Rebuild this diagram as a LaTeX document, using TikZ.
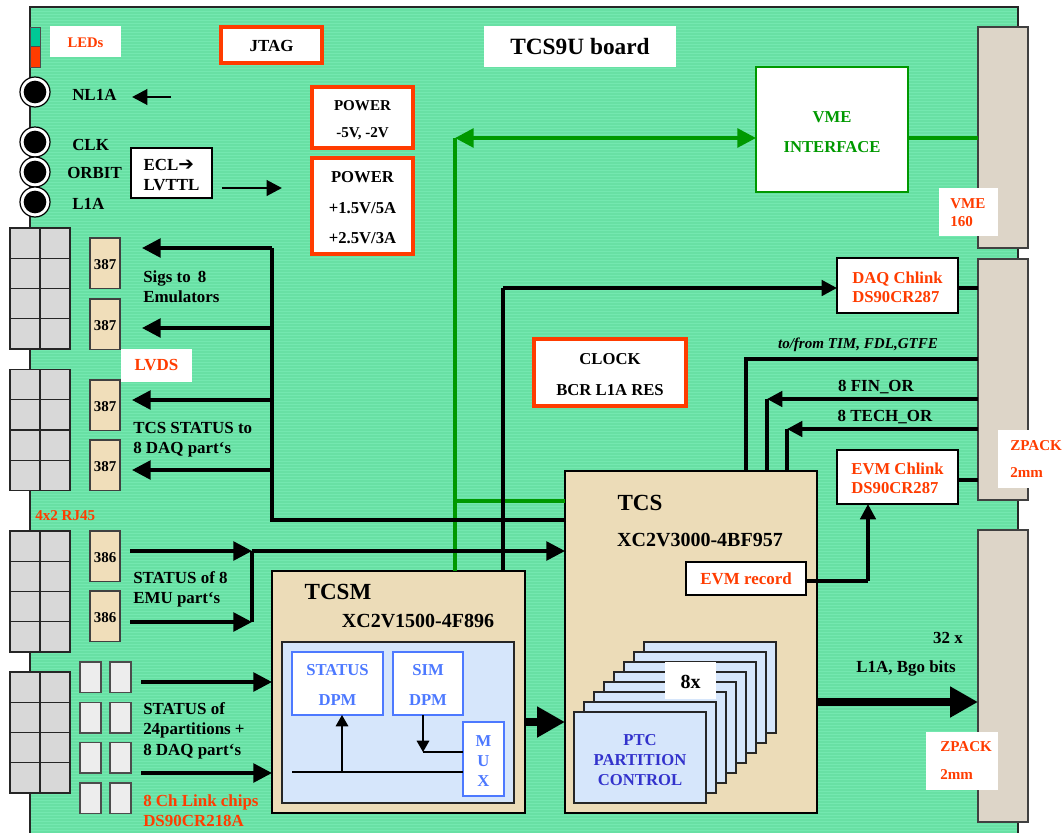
\documentclass[tikz,border=0pt]{standalone}
\usepackage{fontspec}
\setmainfont{Liberation Serif}
\newfontfamily\dvfont{DejaVu Sans}
\usetikzlibrary{arrows.meta,calc}
\definecolor{boardgreen}{RGB}{104,224,164}
\definecolor{stripegreen}{RGB}{116,232,176}
\definecolor{hotred}{RGB}{255,60,0}
\definecolor{vmegreen}{RGB}{0,153,0}
\definecolor{beige}{RGB}{236,220,184}
\definecolor{chipbeige}{RGB}{240,222,186}
\definecolor{conn}{RGB}{221,213,200}
\definecolor{rjgray}{RGB}{216,216,216}
\definecolor{panelblue}{RGB}{214,230,251}
\definecolor{dpmblue}{RGB}{77,121,255}
\definecolor{ptcblue}{RGB}{51,51,204}
\definecolor{ledgreen}{RGB}{0,200,150}
\newcommand\bx[7][]{\node[anchor=north west,minimum width=#5*0.75pt,minimum height=#6*0.75pt,inner sep=0pt,outer sep=0pt,#1] (#2) at (#3,#4) {#7};}
\newcommand\dn[1]{\rule{0pt}{#1pt}}
\tikzset{
 f/.style 2 args={font=\fontsize{#1}{#2}\selectfont\bfseries},
 main/.style={f={12.7}{15}},
 txt/.style={main,inner sep=0pt,align=left,anchor=west},
 redtxt/.style={txt,text=hotred},
 redbox/.style={draw=hotred,fill=white,line width=2.8pt,main,align=center},
 whitebox/.style={draw=black,fill=white,line width=1.1pt,main},
 whitelabel/.style={fill=white,main,text=hotred},
 chipstyle/.style={draw=black!75,fill=chipbeige,line width=0.9pt,f={11.25}{13}},
 linkstyle/.style={draw=black!70,fill=black!7,line width=0.9pt},
 cell/.style={draw=black!85,fill=rjgray,line width=1pt},
 connector/.style={draw=black!75,fill=conn,line width=0.9pt},
 dpm/.style={draw=dpmblue,fill=white,line width=0.9pt,main,text=dpmblue,align=center},
 fpga/.style={draw=black,fill=beige,line width=2.2pt},
 cardstyle/.style={draw=black!85,fill=panelblue,line width=0.9pt},
 wire/.style={draw=black,line width=2.7pt},
 lightwire/.style={draw=black,line width=2.2pt},
 thinwire/.style={draw=black,line width=0.9pt},
 gwire/.style={draw=vmegreen,line width=2.9pt},
 tip/.style={-{Triangle[length=14pt,width=14pt]}},
 midtip/.style={-{Triangle[length=11.5pt,width=11.5pt]}},
 smalltip/.style={-{Triangle[length=8.5pt,width=9.5pt]}},
 bigwire/.style={draw=black,line width=6pt,-{Triangle[length=21pt,width=22pt]}},
}
\newcommand\rj[2]{\foreach \r in {0,1,2,3}{\foreach \c in {0,1}{\node[cell,anchor=north west,minimum width=22.5pt,minimum height=22.7pt,inner sep=0pt,outer sep=0pt] (rj#1-\r-\c) at ({10+30*\c},{#2+30.25*\r}) {};}}}
\begin{document}
\begin{tikzpicture}[x=0.75pt,y=-0.75pt]
\clip (0,0) rectangle (1064,832);
\fill[white] (0,0) rectangle (1064,832);
% board
\fill[boardgreen] (30,7) rectangle (1018,850);
\foreach \yy in {8,11,...,832}{\draw[stripegreen,line width=0.75pt] (30,\yy) -- (1018,\yy);}
\draw[black!85,line width=1.1pt] (30,850) -- (30,7) -- (1018,7) -- (1018,850);
% LEDs
\bx[fill=ledgreen,draw=black!70,line width=0.6pt]{ledg}{30}{27}{10}{19}{}
\bx[fill=hotred,draw=black!70,line width=0.6pt]{ledr}{30}{46}{10}{21}{}
\bx[whitelabel,f={11}{13}]{ledl}{50}{26}{71}{31}{\dn{9}LEDs}
% top boxes
\bx[redbox]{jtag}{221}{27}{101}{36}{\dn{10}JTAG}
\bx[fill=white,f={17.5}{20}]{title}{484}{26}{192}{41}{TCS9U board}
\bx[redbox,f={11.3}{20.2}]{pwra}{312}{87}{101}{61}{\dn{12}POWER\\-5V, -2V}
\bx[redbox,f={12.5}{22.8}]{pwrb}{312}{158}{101}{96}{\dn{11}POWER\\+1.5V/5A\\+2.5V/3A}
\bx[draw=vmegreen,fill=white,line width=1.9pt,main,text=vmegreen,align=center,f={12.5}{22.5}]{vme}{756}{67}{152}{125}{\dn{11.5}VME\\INTERFACE}
% jacks
\foreach \n/\y in {nl/92,clk/142,orb/172,lia/202}{
 \node[circle,draw=black,fill=white,line width=0.9pt,minimum size=22.5pt,inner sep=0pt] (jo\n) at (35,\y) {};
 \node[circle,fill=black,minimum size=17pt,inner sep=0pt] (ji\n) at (35,\y) {};
}
\node[txt] (nltxt) at (72,94.5) {NL1A};
\node[txt] (clktxt) at (72,145) {CLK};
\node[txt] (orbtxt) at (67,172.5) {ORBIT};
\node[txt] (l1atxt) at (72,204) {L1A};
\bx[whitebox,align=left]{ecl}{131}{148}{81}{50}{\dn{12}ECL{\dvfont\bfseries\fontsize{14}{15}\selectfont ➔}\\LVTTL}
\coordinate (nlfrom) at (171,97);
\coordinate (nlto) at (132,97);
\coordinate (eclfrom) at (222,188);
\coordinate (eclto) at (282,188);
% RJ45 blocks
\rj{a}{228}\rj{b}{369.5}\rj{c}{531}\rj{d}{672}
% chips
\foreach \n/\y/\l in {a/238/387,b/299/387,c/380/387,d/440/387,e/531/386,f/591/386}{
 \bx[chipstyle]{chip\n}{90}{\y}{30}{50.5}{\dn{9}\l}
}
\foreach \r/\y in {0/662,1/702.5,2/742.5,3/783}{\foreach \c/\x in {0/80,1/110}{
 \bx[linkstyle]{lnk\r\c}{\x}{\y}{21}{30.5}{}
}}
% left labels
\node[txt] (sigs) at (143,287) {Sigs to \,8\\Emulators};
\bx[whitelabel]{lvds}{121}{349}{71}{33}{LVDS}
\node[txt] (tcsst) at (133,440) {TCS STATUS to\\8 DAQ part‘s};
\node[redtxt,f={11.3}{14}] (rj) at (35,516) {4x2 RJ45};
\node[txt] (emu) at (133,589) {STATUS of 8\\EMU part‘s};
\node[txt,f={12.7}{15.4}] (stp) at (143,730.5) {STATUS of\\24partitions +\\8 DAQ part‘s};
\node[redtxt,f={12.7}{15.2}] (lnkt) at (143,810.5) {8 Ch Link chips\\DS90CR218A};
% right connectors
\bx[connector]{zvme}{978}{27}{50}{221}{}
\bx[connector]{zmid}{978}{259}{50}{241}{}
\bx[connector]{zbot}{978}{530}{50}{292}{}
\bx[fill=white]{vback}{939}{188}{59}{48}{}
\node[redtxt,f={11.3}{13.5}] (vlab) at (950,213) {VME\\160};
\bx[fill=white]{zback1}{998}{430}{66}{58}{}
\node[redtxt,f={11.3}{20.2}] (zlab1) at (1010,459) {ZPACK\\2mm};
\bx[fill=white]{zback2}{926}{732}{72}{58}{}
\node[redtxt,f={11.3}{21}] (zlab2) at (940,761) {ZPACK\\2mm};
% right-hand boxes
\bx[whitebox,text=hotred,align=left,f={12.5}{14.6}]{daq}{837}{258}{121}{55}{\dn{11}DAQ Chlink\\DS90CR287}
\bx[whitebox,text=hotred,align=left,f={12.5}{14.6}]{evm}{837}{450}{121}{54}{\dn{11}EVM Chlink\\DS90CR287}
\bx[redbox,f={12.5}{23}]{clock}{534}{339}{152}{67}{\dn{11.5}CLOCK\\BCR L1A RES}
\node[main,inner sep=0pt,font=\fontsize{11.3}{12}\selectfont\bfseries\itshape] (tofrom) at (858,345) {to/from TIM, FDL,GTFE};
\node[main,inner sep=0pt] (fin) at (876,387) {8 FIN\_OR};
\node[main,inner sep=0pt] (tech) at (885,417) {8 TECH\_OR};
% TCS FPGA
\bx[fpga]{tcs}{565}{471}{252}{342}{}
\node[inner sep=0pt,f={17.3}{20}] (tcst) at (640,503) {TCS};
\node[inner sep=0pt,f={15}{16}] (tcsp) at (700,540) {XC2V3000-4BF957};
\bx[whitebox,text=hotred]{evr}{686}{562}{120}{33}{EVM record}
\foreach \i in {7,6,...,1}{
 \bx[cardstyle]{card\i}{574+10*\i}{712-10*\i}{132}{91}{}
}
\bx[cardstyle,text=ptcblue,align=center,f={12.5}{14.8}]{ptc}{574}{712}{132}{91}{\dn{12}PTC\\PARTITION\\CONTROL}
\bx[fill=white,f={15}{18}]{eight}{665}{662}{51}{37}{\dn{12}8x}
% TCSM FPGA
\bx[fpga]{tcsm}{272}{571}{253}{242}{}
\node[inner sep=0pt,f={17.3}{20}] (tcsmt) at (338,592) {TCSM};
\node[inner sep=0pt,f={15}{16}] (tcsmp) at (418,621) {XC2V1500-4F896};
\bx[cardstyle]{panel}{282}{642}{232}{161}{}
\bx[dpm,f={12.5}{22.5}]{sdpm}{292}{652}{91}{63}{\dn{10}STATUS\\DPM}
\bx[dpm,f={12.5}{22.5}]{sim}{393}{652}{70}{63}{\dn{10}SIM\\DPM}
\bx[dpm,f={12.5}{15}]{mux}{463}{722}{41}{74}{\dn{11.5}M\\U\\X}
% green lines
\coordinate (gtop) at (455,138);
\coordinate (gbranch) at (455,501);
\draw[gwire,{Triangle[length=14pt,width=14pt]}-{Triangle[length=14pt,width=14pt]}] (gtop) -- (vme.west|-gtop);
\draw[gwire] (gtop) -- (gtop|-tcsm.north);
\draw[gwire] (gbranch) -- (gbranch-|tcs.west);
\draw[gwire] (vme.east|-gtop) -- (zvme.west|-gtop);
% black lines
\draw[lightwire,midtip] (nlfrom) -- (nlto);
\draw[lightwire,midtip] (eclfrom) -- (eclto);
\coordinate (bus) at (272,248);
\coordinate (bustcs) at (272,520);
\coordinate (t1) at (142,248);
\coordinate (t2) at (142,328);
\coordinate (t3) at (132,400);
\coordinate (t4) at (132,470);
\draw[wire,line join=miter] (t1-|bus) -- (bustcs) -- (bustcs-|tcs.west);
\foreach \t in {t1,t2,t3,t4}{\draw[wire,tip] (bus|-\t) -- (\t);}
\coordinate (daqv) at (503,288);
\draw[wire] (daqv|-tcsm.north) -- (daqv);
\draw[wire,midtip] (daqv) -- (daqv-|daq.west);
\draw[wire] (daqv-|daq.east) -- (daqv-|zmid.west);
\coordinate (evl) at (958,480);
\draw[wire] (evl) -- (evl-|zmid.west);
\coordinate (tfb) at (746,359);
\draw[wire] (tfb-|zmid.west) -- (tfb) -- (tfb|-tcs.north);
\coordinate (finb) at (767,399);
\draw[wire,midtip] (finb-|zmid.west) -- (finb);
\draw[wire] (finb) -- (finb|-tcs.north);
\coordinate (techb) at (787,429);
\draw[wire,midtip] (techb-|zmid.west) -- (techb);
\draw[wire] (techb) -- (techb|-tcs.north);
\coordinate (evc) at (868,581);
\draw[wire] (evc-|evr.east) -- (evc);
\draw[wire,midtip] (evc) -- (evc|-evm.south);
% status arrows
\coordinate (em1) at (130,551);
\coordinate (em2) at (130,622);
\coordinate (emb) at (252,551);
\draw[wire,tip] (em1) -- (emb);
\draw[wire,tip] (em2) -- (emb|-em2);
\draw[wire] (emb|-em2) -- (emb);
\draw[wire,tip] (emb) -- (emb-|tcs.west);
\coordinate (st1) at (141,682);
\coordinate (st2) at (141,773);
\draw[wire,tip] (st1) -- (st1-|tcsm.west);
\draw[wire,tip] (st2) -- (st2-|tcsm.west);
% inside TCSM
\coordinate (mb) at (292,772);
\coordinate (sd) at (342,772);
\coordinate (simd) at (423,752);
\draw[thinwire] (mb) -- (mb-|mux.west);
\draw[thinwire,smalltip] (sd) -- (sd|-sdpm.south);
\draw[thinwire,smalltip] (simd|-sim.south) -- (simd);
\draw[thinwire] (simd) -- (simd-|mux.west);
% big arrows
\coordinate (bg1) at (525,722);
\draw[bigwire] (bg1) -- (bg1-|tcs.west);
\coordinate (bg2) at (817,702);
\draw[bigwire] (bg2) -- (bg2-|zbot.west);
\node[inner sep=0pt,main] (x32) at (948,638) {32 x};
\node[inner sep=0pt,main] (bgo) at (906,668) {L1A, Bgo bits};
\end{tikzpicture}
\end{document}
